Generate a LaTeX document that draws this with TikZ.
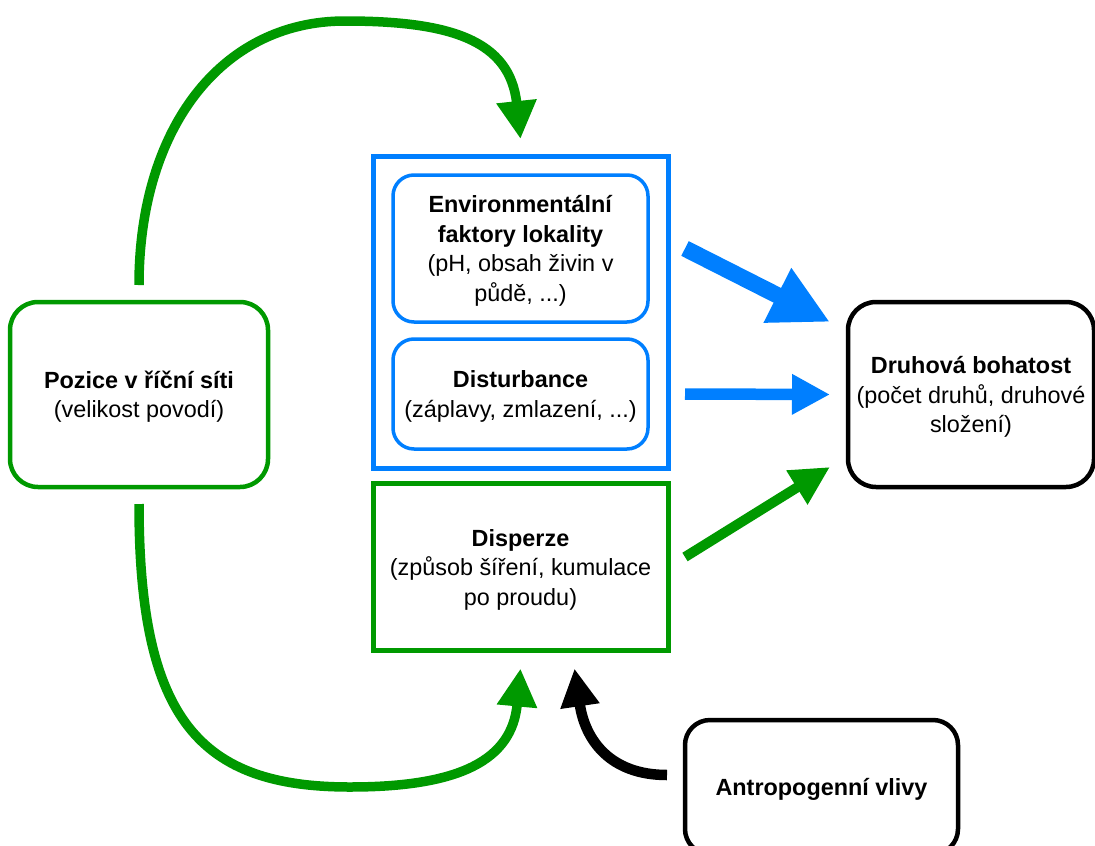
\documentclass[tikz,border=0pt]{standalone}
\usepackage{fontspec}
\setmainfont{Liberation Sans}
\usetikzlibrary{arrows.meta}
\definecolor{dgreen}{HTML}{009900}
\definecolor{dblue}{HTML}{007FFF}
\newcommand\lnstrut{\rule[-6.2pt]{0pt}{29.5pt}}
\begin{document}
\begin{tikzpicture}[x=1pt,y=-1pt,
  box/.style={draw, line width=4.5pt, inner sep=0pt, outer sep=0pt, align=center,
    font=\fontsize{23.4}{29.5}\selectfont, fill=white},
  rbox/.style={box, rounded corners=28pt},
  ibox/.style={box, line width=3.5pt, rounded corners=21pt, draw=dblue},
  curvearrow/.style={line width=9.5pt, -{Triangle[length=38pt,width=38pt]}},
]
\useasboundingbox (0,0) rectangle (1095,846);

% nodes
\node[rbox, draw=dgreen, minimum width=258pt, minimum height=185pt] (pos) at (139,394.5)
  {\lnstrut\textbf{Pozice v říční síti}\\\lnstrut(velikost povodí)};
\node[box, draw=dblue, line width=5pt, minimum width=295pt, minimum height=312pt] (outer) at (520.5,312) {};
\node[ibox, minimum width=255pt, minimum height=147pt] (env) at (520.5,248.5)
  {\lnstrut\textbf{Environmentální}\\\lnstrut\textbf{faktory lokality}\\\lnstrut(pH, obsah živin v\\\lnstrut půdě, ...)};
\node[ibox, minimum width=255pt, minimum height=110pt] (dist) at (520.5,394)
  {\lnstrut\textbf{Disturbance}\\\lnstrut(záplavy, zmlazení, ...)};
\node[box, draw=dgreen, line width=5pt, minimum width=295pt, minimum height=167pt] (disp) at (520.5,567)
  {\lnstrut\textbf{Disperze}\\\lnstrut(způsob šíření, kumulace\\\lnstrut po proudu)};
\node[rbox, draw=black, minimum width=246pt, minimum height=185pt] (rich) at (971,394.5)
  {\lnstrut\textbf{Druhová bohatost}\\\lnstrut(počet druhů, druhové\\\lnstrut složení)};
\node[rbox, draw=black, rounded corners=25pt, minimum width=273pt, minimum height=134pt] (antro) at (821.5,787)
  {\lnstrut\textbf{Antropogenní vlivy}};

% curved connectors
\draw[curvearrow, dgreen] ([yshift=17pt]pos.north)
  .. controls (139,130) and (220,21) .. (345,21)
  .. controls (450,21) and (510,40) .. ([yshift=17pt]outer.north);
\draw[curvearrow, dgreen] ([yshift=-17pt]pos.south)
  .. controls (139,720) and (200,787) .. (350,787)
  .. controls (460,787) and (512,760) .. ([yshift=-18pt]disp.south);
\draw[curvearrow, black, line width=10.5pt, -{Triangle[length=38pt,width=37pt]}]
  ([xshift=-18pt,yshift=12pt]antro.west)
  .. controls (610,775) and (585,740) .. ([xshift=54pt,yshift=-18pt]disp.south);

% straight arrows
\draw[dblue, line width=16.5pt, -{Triangle[length=59pt,width=57pt]}]
  ([xshift=37pt]env.east) -- ([xshift=-18pt,yshift=72.5pt]rich.west);
\draw[dblue, line width=11.5pt, -{Triangle[length=38pt,width=38pt]}]
  ([xshift=37pt]dist.east) -- ([xshift=-18pt]rich.west);
\draw[dgreen, line width=10pt, -{Triangle[length=39pt,width=37.5pt]}]
  ([xshift=17pt,yshift=10pt]disp.east) -- ([xshift=-18pt,yshift=-72.5pt]rich.west);
\end{tikzpicture}
\end{document}
